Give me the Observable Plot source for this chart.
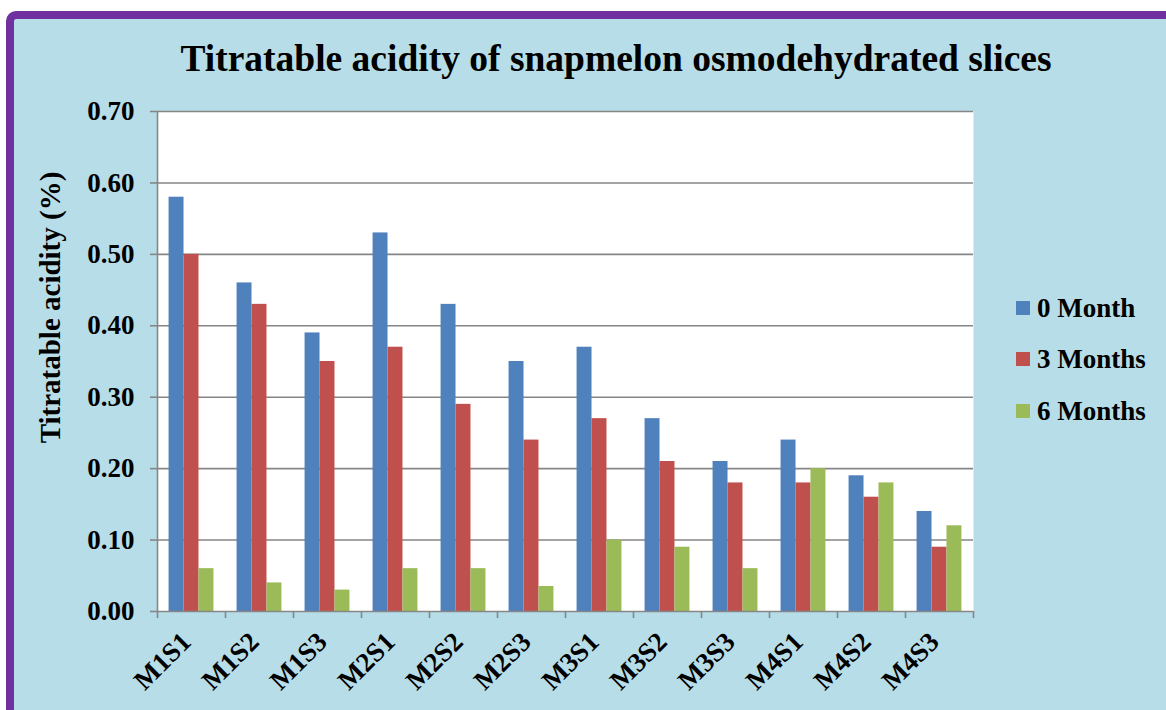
<!DOCTYPE html>
<html>
<head>
<meta charset="utf-8">
<script src="https://cdn.jsdelivr.net/npm/d3@7"></script>
<script src="https://cdn.jsdelivr.net/npm/@observablehq/plot@0.6"></script>
<style>
  html, body { margin: 0; padding: 0; background: #ffffff; width: 1166px; height: 710px; overflow: hidden; }
  #panel { position: absolute; left: 6px; top: 11px; width: 1200px; height: 760px;
    background: #b7dde8; border-left: 8px solid #7030a0; border-top: 8px solid #7030a0;
    border-top-left-radius: 10px; box-sizing: border-box; }
  #chart { position: absolute; left: 0; top: 0; }
  #title { position: absolute; left: 0; width: 1232px; top: 37px; text-align: center;
    font-family: "Liberation Serif", "Times New Roman", serif; font-weight: bold; font-size: 37.5px; color: #000; white-space: nowrap; }
  #legend { position: absolute; left: 1016px; top: 0; font-family: "Liberation Serif", "Times New Roman", serif;
    font-weight: bold; font-size: 27px; color: #000; }
  .item { position: absolute; left: 0; display: flex; align-items: center; white-space: nowrap; height: 30px; }
  .sw { width: 14px; height: 14px; margin-right: 7px; }
</style>
</head>
<body>
<div id="panel"></div>
<div id="chart"></div>
<div id="title">Titratable acidity of snapmelon osmodehydrated slices</div>
<div id="legend"></div>
<script>
const categories = ["M1S1","M1S2","M1S3","M2S1","M2S2","M2S3","M3S1","M3S2","M3S3","M4S1","M4S2","M4S3"];
const month0 = [0.58,0.46,0.39,0.53,0.43,0.35,0.37,0.27,0.21,0.24,0.19,0.14];
const month3 = [0.50,0.43,0.35,0.37,0.29,0.24,0.27,0.21,0.18,0.18,0.16,0.09];
const month6 = [0.06,0.04,0.03,0.06,0.06,0.035,0.10,0.09,0.06,0.20,0.18,0.12];
const seriesNames = ["0 Month","3 Months","6 Months"];
const seriesColors = ["#4f81bd","#c0504d","#9bbb59"];
const yTicks = [0,0.1,0.2,0.3,0.4,0.5,0.6,0.7];
const yTitle = "Titratable acidity (%)";

const seriesValues = [month0, month3, month6];
const data = categories.flatMap((c, i) => seriesValues.map((arr, s) => ({cat: c, i, s, series: seriesNames[s], value: arr[i]})));
const w = 0.22, pad = 0.17;
const font = '"Liberation Serif", "Times New Roman", serif';

const chart = Plot.plot({
  width: 1166, height: 710,
  marginLeft: 157, marginRight: 193, marginTop: 111, marginBottom: 99,
  style: {background: "transparent", fontFamily: font, color: "#000"},
  x: {domain: [0, categories.length], axis: null},
  y: {domain: [0, 0.7], axis: null},
  color: {domain: seriesNames, range: seriesColors},
  marks: [
    Plot.frame({fill: "white", stroke: "none"}),
    Plot.ruleY(yTicks.slice(1), {stroke: "#868686", strokeWidth: 1.6}),
    Plot.rectY(data, {x1: d => d.i + pad + d.s * w, x2: d => d.i + pad + (d.s + 1) * w, y1: 0, y2: "value", fill: "series"}),
    Plot.ruleY([0], {stroke: "#868686", strokeWidth: 1.6}),
    Plot.ruleX([0], {stroke: "#868686", strokeWidth: 1.6}),
    Plot.axisY(yTicks, {tickSize: 7, tickPadding: 16, tickFormat: d => d.toFixed(2), fontSize: 27, fontWeight: "bold", stroke: "#868686", fill: "#000", strokeWidth: 1.6, label: null}),
    Plot.axisX(d3.range(categories.length + 1), {tickSize: 7, tickFormat: () => "", stroke: "#868686", strokeWidth: 1.6, label: null}),
    Plot.text(categories, {x: (d, i) => i + 0.5, frameAnchor: "bottom", text: d => d, rotate: -45, textAnchor: "end", dx: 1, dy: 32, fontSize: 27, fontWeight: "bold", fill: "#000"}),
    Plot.text([yTitle], {frameAnchor: "left", text: d => d, rotate: -90, textAnchor: "middle", dx: -107, dy: -54, fontSize: 29, fontWeight: "bold", fill: "#000"})
  ]
});
document.getElementById("chart").appendChild(chart);

const legend = document.getElementById("legend");
const legendY = [308, 359, 411];
seriesNames.forEach((name, k) => {
  const item = document.createElement("div");
  item.className = "item";
  item.style.top = (legendY[k] - 15) + "px";
  const sw = document.createElement("div");
  sw.className = "sw";
  sw.style.background = seriesColors[k];
  const lab = document.createElement("span");
  lab.textContent = name;
  item.appendChild(sw);
  item.appendChild(lab);
  legend.appendChild(item);
});
</script>
</body>
</html>
